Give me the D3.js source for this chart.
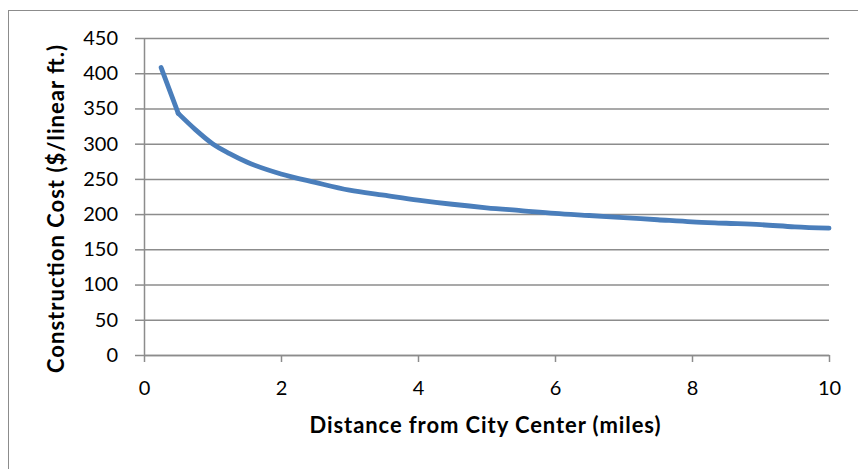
<!DOCTYPE html>
<html>
<head>
<meta charset="utf-8">
<script src="https://cdn.jsdelivr.net/npm/d3@7"></script>
<style>
  html, body { margin: 0; padding: 0; background: #fff; }
  svg { display: block; }
  text { font-family: Lato, "Open Sans", sans-serif; fill: #000; }
</style>
</head>
<body>
<svg id="chart" width="858" height="469"></svg>
<script>
// Construction cost versus distance from the city centre
const distance = [0.25, 0.5, 0.75, 1, 1.25, 1.5, 2, 2.5, 3, 3.5, 4, 4.5, 5, 5.5, 6, 6.5, 7, 7.5, 8, 8.5, 9, 9.5, 10];
const cost     = [408, 343, 320, 300, 286, 274, 257, 245, 234, 227, 220, 214, 209, 205, 201, 198, 195, 192, 189, 187, 185, 182, 180];
const xTicks = [0, 2, 4, 6, 8, 10];
const yTicks = [0, 50, 100, 150, 200, 250, 300, 350, 400, 450];
const xTitle = "Distance from City Center (miles)";
const yTitle = "Construction Cost ($/linear ft.)";

const svg = d3.select("#chart");
const W = 858, H = 469;
const plot = { left: 144, right: 829, top: 38, bottom: 355 };
const gridColor = "#8c8c8c";
const fontFamily = "Lato, 'Open Sans', sans-serif";

svg.append("rect").attr("width", W).attr("height", H).attr("fill", "#fff");
// chart frame
svg.append("rect")
  .attr("x", 8.5).attr("y", 10.5)
  .attr("width", W + 20).attr("height", H + 20)
  .attr("fill", "none").attr("stroke", "#8c8c8c").attr("stroke-width", 1);

const x = d3.scaleLinear().domain([0, 10]).range([plot.left, plot.right]);
const y = d3.scaleLinear().domain([0, 450]).range([plot.bottom, plot.top]);

// horizontal gridlines with left tick marks
const yAxis = d3.axisLeft(y).tickValues(yTicks).tickSize(9).tickSizeOuter(0).tickPadding(17);
const gy = svg.append("g").attr("transform", `translate(${plot.left},0)`).call(yAxis);
gy.select(".domain").attr("stroke", gridColor).attr("stroke-width", 1.5);
gy.selectAll(".tick line").attr("stroke", gridColor).attr("stroke-width", 1.5);
gy.selectAll(".tick text").attr("font-size", 20).attr("font-family", fontFamily).attr("fill", "#000");
gy.selectAll(".tick").append("line")
  .attr("x1", 0).attr("x2", plot.right - plot.left)
  .attr("stroke", gridColor).attr("stroke-width", 1.5);

// x axis
const xAxis = d3.axisBottom(x).tickValues(xTicks).tickSize(7).tickSizeOuter(0).tickPadding(19);
const gx = svg.append("g").attr("transform", `translate(0,${plot.bottom})`).call(xAxis);
gx.select(".domain").attr("stroke", gridColor).attr("stroke-width", 1.5);
gx.selectAll(".tick line").attr("stroke", gridColor).attr("stroke-width", 1.5);
gx.selectAll(".tick text").attr("font-size", 20).attr("font-family", fontFamily).attr("fill", "#000");

// cost curve: straight first leg, smoothed from 0.5 miles on
const pts = distance.map((d, i) => [d, cost[i]]);
const straight = d3.line().x(d => x(d[0])).y(d => y(d[1])).curve(d3.curveLinear);
const smooth = d3.line().x(d => x(d[0])).y(d => y(d[1])).curve(d3.curveMonotoneX);
const curveStyle = sel => sel
  .attr("fill", "none")
  .attr("stroke", "#4a7ebb")
  .attr("stroke-width", 4.8)
  .attr("stroke-linecap", "round")
  .attr("stroke-linejoin", "round");
svg.append("path").datum(pts.slice(0, 2)).attr("d", straight).call(curveStyle);
svg.append("path").datum(pts.slice(1)).attr("d", smooth).call(curveStyle);

// axis titles
svg.append("text")
  .attr("x", 485).attr("y", 433)
  .attr("text-anchor", "middle")
  .attr("font-size", 22).attr("font-weight", "bold")
  .attr("textLength", 351).attr("lengthAdjust", "spacing")
  .text(xTitle);

svg.append("text")
  .attr("transform", `translate(64,209) rotate(-90)`)
  .attr("text-anchor", "middle")
  .attr("font-size", 22).attr("font-weight", "bold")
  .attr("textLength", 328).attr("lengthAdjust", "spacing")
  .text(yTitle);
</script>
</body>
</html>
